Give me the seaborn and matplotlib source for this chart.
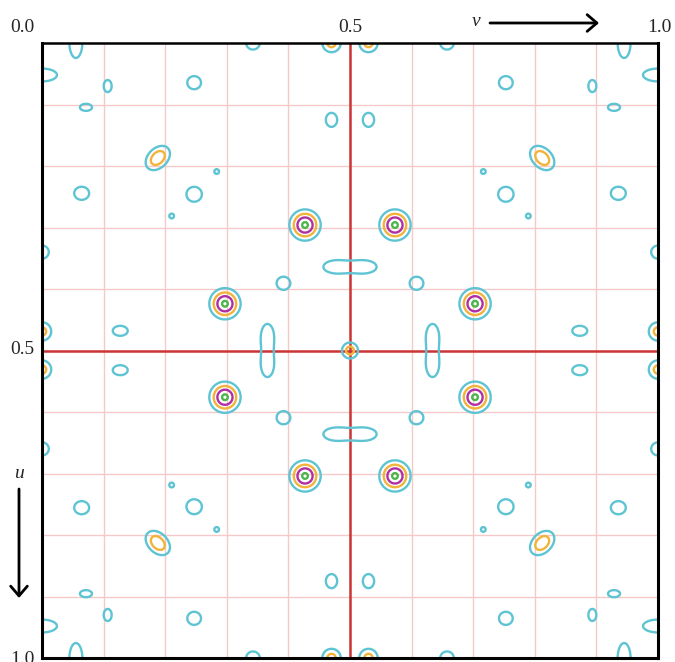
import numpy as np
import matplotlib
matplotlib.use("Agg")
import matplotlib.pyplot as plt
import seaborn as sns

# ---------------- data: peaks in the asymmetric quadrant (u<=0.5, v<=0.5) ----------------
# mirrored by m (u -> 1-u, v -> 1-v) and repeated periodically
peak_u = [0.187, 0.296, 0.424, 0.0645, 0.070, 0.1046, 0.000, 0.052, 0.000, 0.340,
          0.000, 0.469, 0.125, 0.468, 0.209, 0.2813, 0.246, 0.2444, 0.364, 0.477,
          0.3907, 0.500]
peak_v = [0.188, 0.427, 0.297, 0.247, 0.1066, 0.0714, 0.055, 0.000, 0.3425, 0.000,
          0.470, 0.000, 0.470, 0.127, 0.2836, 0.2105, 0.247, 0.0644, 0.477, 0.366,
          0.392, 0.500]
peak_h = [2.8, 4.2, 4.2, 1.6, 1.4, 1.4, 1.6, 1.6, 1.4, 1.4,
          2.4, 2.4, 1.5, 1.5, 1.08, 1.08, 1.6, 1.6, 1.7, 1.7,
          1.6, 2.5]
peak_sa = [0.0160, 0.0150, 0.0150, 0.0115, 0.0120, 0.0120, 0.0250, 0.0250, 0.0135, 0.0135,
           0.0113, 0.0113, 0.0127, 0.0135, 0.0100, 0.0100, 0.0129, 0.0125, 0.0195, 0.0195,
           0.0115, 0.0096]
peak_sb = [0.0110, 0.0150, 0.0150, 0.0110, 0.0079, 0.0070, 0.0108, 0.0108, 0.0130, 0.0130,
           0.0113, 0.0113, 0.0102, 0.0090, 0.0100, 0.0100, 0.0125, 0.0110, 0.0100, 0.0100,
           0.0110, 0.0096]
peak_theta = [-45, 0, 0, 0, 90, 0, 90, 0, 0, 0,
              0, 0, 90, 0, 0, 0, 0, 0, 0, 90,
              0, 0]

levels = [1.0, 2.0, 3.0, 4.0]
level_colors = ["#5ec4d3", "#f2b33a", "#b02fa4", "#4cb64a"]

top_labels = ["0.0", "0.5", "1.0"]
left_labels = ["0.5", "1.0"]

# ---------------- build field ----------------
n = 601
vv = np.linspace(0, 1, n)
uu = np.linspace(0, 1, n)
V, U = np.meshgrid(vv, uu)
F = np.zeros_like(V)

images = {}
for u0, v0, h, sa, sb, th in zip(peak_u, peak_v, peak_h, peak_sa, peak_sb, peak_theta):
    for mu in (False, True):
        for mv in (False, True):
            uu0 = (1 - u0) if mu else u0
            vv0 = (1 - v0) if mv else v0
            t = -th if (mu != mv) else th
            key = (round(uu0 % 1.0, 4), round(vv0 % 1.0, 4))
            images[key] = (h, sa, sb, t)

for (u0, v0), (h, sa, sb, th) in images.items():
    c, s = np.cos(np.radians(th)), np.sin(np.radians(th))
    for du in (-1, 0, 1):
        for dv in (-1, 0, 1):
            dx = V - (v0 + dv)
            dy = U - (u0 + du)
            a = dx * c + dy * s
            b = -dx * s + dy * c
            F += h * np.exp(-a**2 / (2 * sa**2) - b**2 / (2 * sb**2))

# ---------------- plot ----------------
sns.set_theme(style="white")
plt.rcParams["font.family"] = ["Liberation Serif", "DejaVu Serif"]

W, H = 675, 662
fig = plt.figure(figsize=(W / 100, H / 100), dpi=100)
ax = fig.add_axes([42 / W, 1 - 658 / H, 616 / W, 615 / H])

grid_pos = [0.1, 0.2, 0.3, 0.4, 0.6, 0.7, 0.8, 0.9]
for g in grid_pos:
    ax.axvline(g, color="#f5c8ca", lw=1.0, zorder=1)
    ax.axhline(g, color="#f5c8ca", lw=1.0, zorder=1)
ax.axvline(0.5, color="#cc3333", lw=1.8, zorder=2)
ax.axhline(0.5, color="#cc3333", lw=1.8, zorder=2)

ax.contour(V, U, F, levels=levels, colors=level_colors, linewidths=1.7, zorder=3)

ax.set_xlim(0, 1)
ax.set_ylim(1, 0)
ax.set_xticks([])
ax.set_yticks([])
for side, sp in ax.spines.items():
    sp.set_visible(True)
    sp.set_color("black")
    sp.set_linewidth(2.2 if side != "top" else 1.8)
    sp.set_zorder(5)

def fx(x):
    return x / W

def fy(y):
    return 1 - y / H

fs = 14
for lab, x in zip(top_labels, [22, 350.5, 659]):
    fig.text(fx(x), fy(27), lab, ha="center", va="center", fontsize=fs)
for lab, y in zip(left_labels, [350, 659]):
    fig.text(fx(22), fy(y), lab, ha="center", va="center", fontsize=fs)

fig.text(fx(476), fy(22), "v", ha="center", va="center", fontsize=fs, style="italic")
fig.text(fx(19), fy(474), "u", ha="center", va="center", fontsize=fs, style="italic")

arrow = dict(arrowstyle="->,head_length=0.35,head_width=0.3", lw=2.0, color="black",
             mutation_scale=20, shrinkA=0, shrinkB=0)
ax.annotate("", xy=(fx(599), fy(23)), xytext=(fx(490), fy(23)),
            xycoords="figure fraction", textcoords="figure fraction", arrowprops=arrow)
ax.annotate("", xy=(fx(19), fy(598)), xytext=(fx(19), fy(489)),
            xycoords="figure fraction", textcoords="figure fraction", arrowprops=arrow)

fig.savefig("out.png", dpi=100, facecolor="white")
